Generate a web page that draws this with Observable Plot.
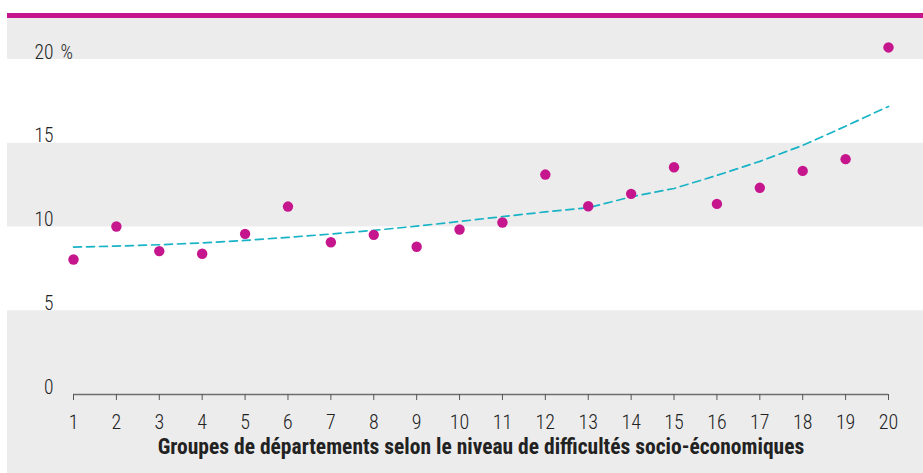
<!DOCTYPE html>
<html><head><meta charset="utf-8">
<script src="https://cdn.jsdelivr.net/npm/d3@7"></script>
<script src="https://cdn.jsdelivr.net/npm/@observablehq/plot@0.6"></script>
<style>
body{margin:0;background:#fff;}
#wrap{padding:13px 0 0 7px;width:916px;}
</style></head><body><div id="wrap"></div>
<script>
const groups = [1,2,3,4,5,6,7,8,9,10,11,12,13,14,15,16,17,18,19,20];
const shares = [8.06,10.03,8.56,8.40,9.59,11.22,9.09,9.53,8.82,9.85,10.27,13.13,11.24,11.98,13.57,11.38,12.34,13.35,14.05,20.72];
const trend = [8.80,8.86,8.94,9.05,9.20,9.38,9.58,9.80,10.05,10.33,10.62,10.90,11.15,11.80,12.30,13.08,13.92,14.87,16.02,17.20];
const yTicks = [0,5,10,15,20];
const yTickLabels = ["0","5","10","15","20"];
const yTickSuffix = ["","","","","%"];
const bandStart = [5,15];
const bandEnd = [10,20];
const xTitle = "Groupes de départements selon le niveau de difficultés socio-économiques";

const FONT = '"Roboto Condensed","Liberation Sans Narrow","Arial Narrow","DejaVu Sans Condensed",sans-serif';
const bands = bandStart.map((s,i)=>({y1:s,y2:bandEnd[i]}));
const pts = groups.map((g,i)=>({g, v:shares[i], t:trend[i]}));

const chart = Plot.plot({
  width: 916, height: 455,
  marginLeft: 66, marginRight: 35, marginTop: 41, marginBottom: 79,
  x: {domain:[1,20], axis:null},
  y: {domain:[0,20], axis:null},
  style: {background:"#ececec", borderTop:"5px solid #c6168d", display:"block", fontFamily:FONT, fontStretch:"condensed", overflow:"visible", color:"#222"},
  marks: [
    Plot.rect(bands, {y1:"y1", y2:"y2", fill:"white", insetLeft:-66, insetRight:-35}),
    Plot.ruleY([0], {stroke:"#6e6e6e", strokeWidth:1.6}),
    Plot.axisX(groups, {label:null, tickSize:6, tickPadding:14, stroke:"#555", fontSize:20, fontWeight:300, fill:"#222"}),
    Plot.text(yTicks, {y:d=>d, text:(d,i)=>yTickLabels[i], frameAnchor:"left", dx:-20, dy:-1, textAnchor:"end", lineAnchor:"bottom", fontSize:19.5, fontWeight:300, fill:"#222"}),
    Plot.text(yTicks, {y:d=>d, text:(d,i)=>yTickSuffix[i], frameAnchor:"left", dx:-13, dy:-1, textAnchor:"start", lineAnchor:"bottom", fontSize:19.5, fontWeight:300, fill:"#222"}),
    Plot.line(pts, {x:"g", y:"t", stroke:"#19b3c6", strokeWidth:1.7, strokeDasharray:"8,5"}),
    Plot.dot(pts, {x:"g", y:"v", r:5.2, fill:"#c6168d", stroke:"none"}),
    Plot.text([xTitle], {text:d=>d, frameAnchor:"bottom", dy:59, lineAnchor:"bottom", fontSize:21.5, fontWeight:"bold", fill:"#222"})
  ]
});
document.getElementById("wrap").appendChild(chart);
</script></body></html>
